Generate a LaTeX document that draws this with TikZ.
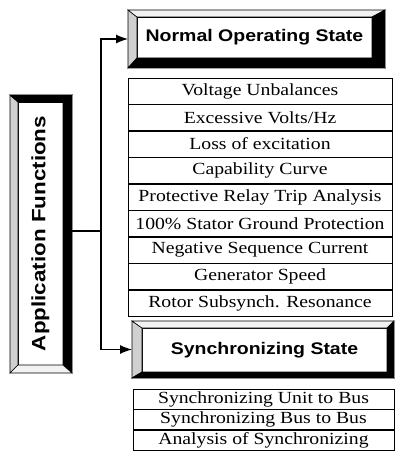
\documentclass[tikz,border=0pt]{standalone}
\usepackage{fontspec}
\setmainfont{Liberation Serif}[FakeStretch=1.16]
\newfontfamily\headfont{Liberation Sans}[FakeStretch=1.16]
\definecolor{BevelGray}{HTML}{D0D0D0}
\definecolor{BevelLight}{HTML}{F2F2F2}
\usetikzlibrary{arrows.meta,positioning}

% outer frame, face, then fills for left, top, right, bottom
\newcommand{\bevelframe}[6]{%
  \filldraw[line width=0.6pt,fill=#3] (#1.north west) -- (#2.north west) -- (#2.south west) -- (#1.south west) -- cycle;
  \filldraw[line width=0.6pt,fill=#4] (#1.north west) -- (#1.north east) -- (#2.north east) -- (#2.north west) -- cycle;
  \filldraw[line width=0.6pt,fill=#5] (#1.north east) -- (#1.south east) -- (#2.south east) -- (#2.north east) -- cycle;
  \filldraw[line width=0.6pt,fill=#6] (#1.south west) -- (#2.south west) -- (#2.south east) -- (#1.south east) -- cycle;
}

\begin{document}
\begin{tikzpicture}[x=1pt,y=-1pt,
        frame/.style={inner sep=0pt,outer sep=0pt},
        face/.style={draw,fill=white,line width=0.6pt,inner sep=0pt,outer sep=0pt,
                     font=\headfont\bfseries\fontsize{16.8}{18}\selectfont},
        normitem/.style={draw,line width=0.6pt,inner sep=0pt,
                         minimum width=264pt,minimum height=25.9pt,
                         font=\fontsize{17}{18}\selectfont},
        syncitem/.style={normitem,minimum width=261pt,minimum height=20pt},
        conn/.style={line width=1.2pt},
        tip/.style={-{Latex[length=12pt,width=9pt]}}]

  \useasboundingbox (0,0) rectangle (395,468);

  % three beveled boxes
  \node[frame,minimum width=62pt,minimum height=278pt] (appframe) at (41,234) {};
  \node[face,minimum width=45pt,minimum height=263pt] (app) at (40.5,233.5)
       {\rotatebox{90}{\fontsize{19.3}{21}\selectfont Application Functions}};
  \bevelframe{appframe}{app}{BevelGray}{black}{black}{BevelLight}

  \node[frame,minimum width=257pt,minimum height=58pt] (normframe) at (256.5,39) {};
  \node[face,minimum width=235pt,minimum height=41pt] (normal) at (254.5,37.5)
       {Normal Operating State};
  \bevelframe{normframe}{normal}{BevelGray}{BevelLight}{black}{black}

  \node[frame,minimum width=262pt,minimum height=57pt] (syncframe) at (263,349.5) {};
  \node[face,minimum width=245pt,minimum height=44pt] (sync) at (264.5,350)
       {Synchronizing State};
  \bevelframe{syncframe}{sync}{BevelGray}{BevelLight}{black}{black}

  % lists
  \node[normitem] (nr1) at (260,90.95) {Voltage Unbalances};
  \foreach \txt [count=\i from 2] in {Excessive Volts/Hz,Loss of excitation,
      Capability Curve,Protective Relay Trip Analysis,100\% Stator Ground Protection,
      Negative Sequence Current,Generator Speed,Rotor Subsynch. Resonance}{
    \pgfmathtruncatemacro{\j}{\i-1}
    \node[normitem,below=0pt of nr\j] (nr\i) {\txt};
  }

  \node[syncitem] (sr1) at (263.5,399) {Synchronizing Unit to Bus};
  \foreach \txt [count=\i from 2] in {Synchronizing Bus to Bus,Analysis of Synchronizing}{
    \pgfmathtruncatemacro{\j}{\i-1}
    \node[syncitem,below=0pt of sr\j] (sr\i) {\txt};
  }

  % connectors
  \coordinate (split) at (101,231);
  \draw[conn] (split -| appframe.east) -- (split);
  \foreach \n in {normframe,syncframe}{
    \draw[conn,tip] (split) |- (\n.west);
  }
\end{tikzpicture}
\end{document}
